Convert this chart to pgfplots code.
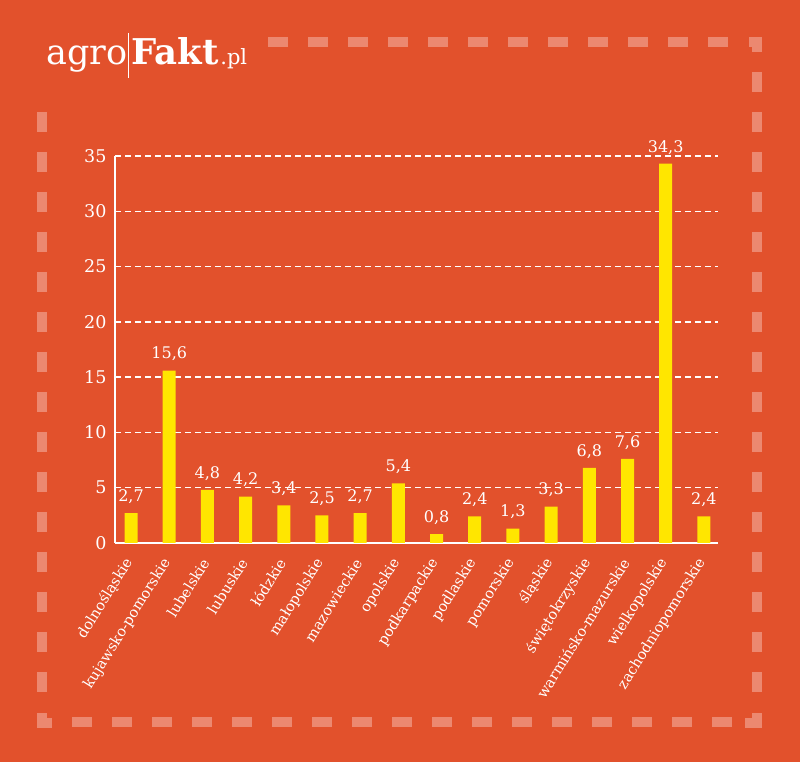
\documentclass[border=0pt]{standalone}
\usepackage{pgfplots}
\pgfplotsset{compat=1.18}
\usepackage{fontspec}
\setmainfont{DejaVu Serif}
\definecolor{bg}{RGB}{226,81,44}
\definecolor{frame}{RGB}{236,136,112}
\definecolor{baryellow}{RGB}{255,230,0}
\begin{document}
\begin{tikzpicture}[x=1pt,y=1pt]
\fill[bg] (0,0) rectangle (800,762);
\useasboundingbox (0,0) rectangle (800,762);
% dashed frame (pixel coords: y_tikz = 762 - y_px)
\begin{scope}[frame, line width=10pt, dash pattern=on 20pt off 20pt]
\draw (268,720) -- (728,720);  % top
\draw (72,40) -- (732,40);     % bottom
\draw (42,650) -- (42,70);     % left
\draw (757,690) -- (757,70);   % right
\end{scope}
\fill[frame] (749,725) rectangle (762,715);
\fill[frame] (752,725) rectangle (762,710);
\fill[frame] (37,49) rectangle (47,34);
\fill[frame] (37,44) rectangle (52,34);
\fill[frame] (752,49) rectangle (762,34);
\fill[frame] (745,44) rectangle (762,34);
% logo
\node[white, anchor=base west, inner sep=0pt] (agro) at (46,697) {\fontsize{35}{35}\selectfont agro};
\draw[white, line width=0.8pt] (128.5,729) -- (128.5,684);
\node[white, anchor=base west, inner sep=0pt] (fakt) at (131,697) {\fontsize{35.5}{35.5}\selectfont\bfseries Fakt};
\node[white, anchor=base west, inner sep=0pt] at ([xshift=1.5pt]fakt.base east) {\fontsize{21}{21}\selectfont .pl};
\begin{axis}[
  at={(115pt,219pt)}, anchor=south west,
  scale only axis, width=603pt, height=387pt,
  xmin=-0.42, xmax=15.37, ymin=0, ymax=35,
  axis x line*=bottom, axis y line*=left,
  axis line style={white, line width=2pt, -},
  major tick length=0pt,
  ytick={0,5,...,35},
  ymajorgrids,
  grid style={white, line width=1.3pt, dash pattern=on 6pt off 4pt},
  /pgf/number format/assume math mode=true,
  yticklabel style={white, font=\fontsize{17.5}{17.5}\selectfont, xshift=-5pt},
  xtick={0,...,15},
  xticklabels={dolnośląskie,kujawsko-pomorskie,lubelskie,lubuskie,łódzkie,małopolskie,mazowieckie,opolskie,podkarpackie,podlaskie,pomorskie,śląskie,świętokrzyskie,warmińsko-mazurskie,wielkopolskie,zachodniopomorskie},
  xticklabel style={white, xshift=0pt, yshift=-14pt, rotate=58, anchor=east, font=\fontsize{14.5}{14.5}\selectfont},
  nodes near coords={\pgfmathprintnumber[use comma,fixed,fixed zerofill,precision=1]{\pgfplotspointmeta}},
  nodes near coords style={white, font=\fontsize{16}{16}\selectfont, anchor=south, yshift=6pt},
]
\addplot[ybar, bar width=13pt, fill=baryellow, draw=none] coordinates {
(0,2.7) (1,15.6) (2,4.8) (3,4.2) (4,3.4) (5,2.5) (6,2.7) (7,5.4)
(8,0.8) (9,2.4) (10,1.3) (11,3.3) (12,6.8) (13,7.6) (14,34.3) (15,2.4)};
\end{axis}
\end{tikzpicture}
\end{document}
